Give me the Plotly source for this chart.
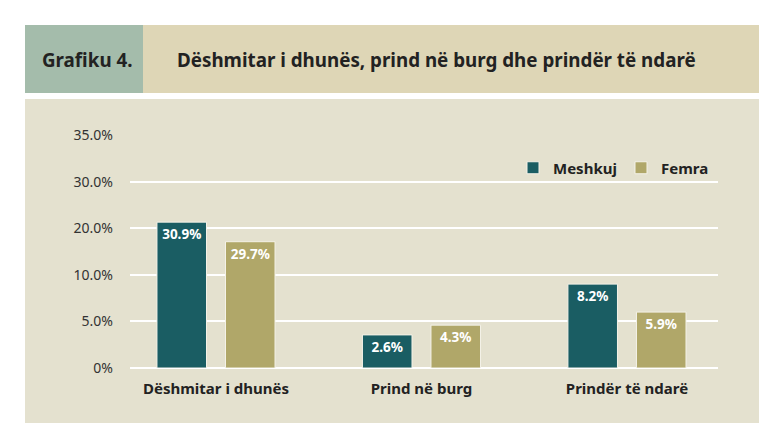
import plotly.graph_objects as go

# data
categories = ["Dëshmitar i dhunës", "Prind në burg", "Prindër të ndarë"]
meshkuj_heights = [31.3, 7.1, 18.0]    # bar heights in axis units as drawn
femra_heights = [27.1, 9.2, 12.0]
meshkuj_labels = ["30.9%", "2.6%", "8.2%"]
femra_labels = ["29.7%", "4.3%", "5.9%"]
tick_positions = [0, 10, 20, 30, 40, 50]
tick_labels = ["0%", "5.0%", "10.0%", "20.0%", "30.0%", "35.0%"]

# page body has an 8px margin, so the figure starts at (8, 8) in the window
OFF = 8
W, H = 755, 417
L, R, T, B = 130 - OFF, W - (718 - OFF), 135 - OFF, H - (368 - OFF)
PW, PH = W - L - R, H - T - B
FONT = "Noto Sans"


def px(x):
    # window x pixel -> paper fraction
    return (x - OFF - L) / PW


def py(y):
    # window y pixel -> paper fraction
    return 1 - (y - OFF - T) / PH


fig = go.Figure()
fig.add_trace(go.Bar(x=categories, y=meshkuj_heights, name="Meshkuj", text=meshkuj_labels,
                     legend="legend",
                     marker=dict(color="#1a5d63", line=dict(color="#f4f2e8", width=1))))
fig.add_trace(go.Bar(x=categories, y=femra_heights, name="Femra", text=femra_labels,
                     legend="legend2",
                     marker=dict(color="#b0a769", line=dict(color="#f4f2e8", width=1))))
fig.update_traces(textposition="inside", insidetextanchor="end", textangle=0,
                  cliponaxis=False,
                  textfont=dict(family=FONT, size=13.5, color="white", weight="bold"))

# header blocks and chart background
shapes = [
    dict(type="rect", xref="paper", yref="paper", x0=px(25), x1=px(143), y0=py(93), y1=py(25),
         fillcolor="#a4bcab", line_width=0, layer="below"),
    dict(type="rect", xref="paper", yref="paper", x0=px(143), x1=px(759), y0=py(93), y1=py(25),
         fillcolor="#ded6b6", line_width=0, layer="below"),
    dict(type="rect", xref="paper", yref="paper", x0=px(25), x1=px(759), y0=py(423), y1=py(99),
         fillcolor="#e4e1cf", line_width=0, layer="below"),
]

annotations = [
    dict(text="<b>Grafiku 4.</b>", xref="paper", yref="paper", x=px(87), y=py(60),
         showarrow=False, font=dict(family=FONT, size=18.8, color="#222222"),
         xanchor="center", yanchor="middle"),
    dict(text="<b>Dëshmitar i dhunës, prind në burg dhe prindër të ndarë</b>", xref="paper",
         yref="paper", x=px(175), y=py(60), showarrow=False,
         font=dict(family=FONT, size=18.8, color="#222222"), xanchor="left", yanchor="middle"),
]

legend_style = dict(orientation="h", xref="paper", yref="paper", xanchor="left",
                    yanchor="middle", bgcolor="rgba(0,0,0,0)",
                    font=dict(family=FONT, size=15, color="#222222", weight="bold"))

fig.update_layout(
    width=W, height=H,
    margin=dict(l=L, r=R, t=T, b=B),
    paper_bgcolor="white", plot_bgcolor="rgba(0,0,0,0)",
    barmode="group", bargap=0.333, bargroupgap=0.277,
    shapes=shapes, annotations=annotations,
    showlegend=True,
    legend=dict(x=px(513), y=py(168), **legend_style),
    legend2=dict(x=px(621), y=py(168), **legend_style),
    font=dict(family=FONT),
)
fig.update_xaxes(range=[-0.4185, 2.443], showgrid=False, showline=False, ticks="",
                 ticklabelstandoff=10,
                 tickfont=dict(family=FONT, size=15, color="#222222", weight="bold"))
fig.update_yaxes(range=[0, 50], tickvals=tick_positions, ticktext=tick_labels,
                 showgrid=True, gridcolor="white", gridwidth=2, zeroline=True,
                 zerolinecolor="white", zerolinewidth=2, ticks="", ticklabelstandoff=16,
                 tickfont=dict(family=FONT, size=14, color="#333333"))

fig.write_html("out.html")
